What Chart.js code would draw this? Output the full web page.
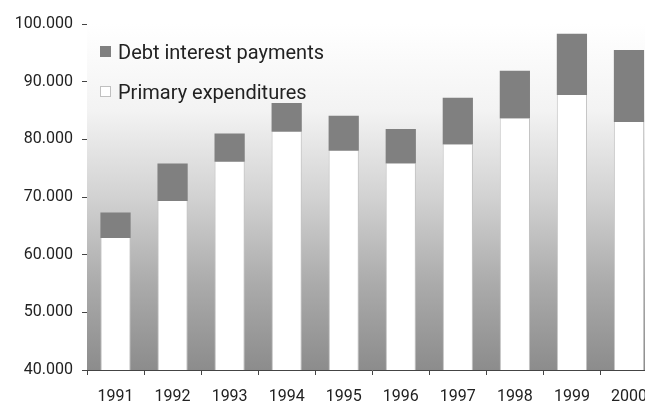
<!DOCTYPE html>
<html>
<head>
<meta charset="utf-8">
<script src="https://cdn.jsdelivr.net/npm/chart.js@4.4.1/dist/chart.umd.min.js"></script>
<style>
  html, body { margin: 0; padding: 0; background: #fff; overflow: hidden; }
  #wrap { position: relative; width: 659px; height: 404px; }
</style>
</head>
<body>
<div id="wrap"><canvas id="grafico" width="659" height="404"></canvas></div>
<script>
// anos e valores (milhões)
const anos = ['1991', '1992', '1993', '1994', '1995', '1996', '1997', '1998', '1999', '2000'];
const primarias = [62900, 69300, 76100, 81300, 78000, 75800, 79100, 83600, 87700, 83000];
const juros = [4400, 6500, 4900, 5000, 6100, 6000, 8100, 8300, 10600, 12500];
const rotulos = ['Primary expenditures', 'Debt interest payments'];
const eixoY = { min: 40000, max: 100000, passo: 10000 };

const fonte = 'Roboto, "Noto Sans", sans-serif';

// 100000 -> "100.000"
function formata(v) {
  return String(v).replace(/\B(?=(\d{3})+(?!\d))/g, '.');
}

// fundo degradê na área do gráfico
const fundoDegrade = {
  id: 'fundoDegrade',
  beforeDatasetsDraw(chart) {
    const { ctx, chartArea: a } = chart;
    const g = ctx.createLinearGradient(0, a.top, 0, a.bottom);
    g.addColorStop(0, '#ffffff');
    g.addColorStop(0.25, '#f3f3f3');
    g.addColorStop(0.5, '#d2d2d2');
    g.addColorStop(0.75, '#ababab');
    g.addColorStop(1, '#8c8c8c');
    ctx.save();
    ctx.fillStyle = g;
    ctx.fillRect(a.left, a.top, a.right - a.left, a.bottom - a.top);
    ctx.restore();
  }
};

// legenda desenhada dentro da área, no canto superior esquerdo
const legendaInterna = {
  id: 'legendaInterna',
  afterDatasetsDraw(chart) {
    const { ctx, chartArea: a } = chart;
    const itens = chart.data.datasets.slice().reverse();
    ctx.save();
    ctx.font = '20px ' + fonte;
    ctx.textBaseline = 'alphabetic';
    itens.forEach((ds, i) => {
      const y = a.top + 22 + i * 40;
      ctx.fillStyle = ds.backgroundColor;
      ctx.fillRect(a.left + 13, y, 11, 11);
      if (ds.backgroundColor === '#ffffff') {
        ctx.strokeStyle = '#c0c0c0';
        ctx.lineWidth = 1;
        ctx.strokeRect(a.left + 13.5, y + 0.5, 10, 10);
      }
      ctx.fillStyle = '#222';
      ctx.fillText(ds.label, a.left + 31, y + 13);
    });
    ctx.restore();
  }
};

const grafico = new Chart(document.getElementById('grafico'), {
  type: 'bar',
  data: {
    labels: anos,
    datasets: [
      {
        label: rotulos[0],
        data: primarias,
        backgroundColor: '#ffffff',
        borderColor: '#c4c4c4',
        borderWidth: { left: 1, right: 1, top: 0, bottom: 0 },
        borderSkipped: false
      },
      {
        label: rotulos[1],
        data: juros,
        backgroundColor: '#808080',
        borderWidth: 0
      }
    ]
  },
  options: {
    responsive: false,
    animation: false,
    devicePixelRatio: 1,
    layout: { padding: { top: 24, right: 1, left: 0, bottom: 0 } },
    datasets: {
      bar: { categoryPercentage: 1, barPercentage: 0.53 }
    },
    plugins: {
      legend: { display: false },
      tooltip: { enabled: false }
    },
    scales: {
      x: {
        stacked: true,
        border: { color: '#444', width: 1 },
        grid: { drawOnChartArea: false, tickLength: 5, color: '#444', offset: true },
        ticks: { color: '#222', font: { family: fonte, size: 16 }, padding: 12, maxRotation: 0 },
        afterFit(s) { s.height = 34; }
      },
      y: {
        stacked: true,
        min: eixoY.min,
        max: eixoY.max,
        border: { color: '#444', width: 1 },
        grid: { drawOnChartArea: false, tickLength: 5, color: '#444' },
        ticks: {
          stepSize: eixoY.passo,
          color: '#222',
          font: { family: fonte, size: 16 },
          padding: 9,
          callback: (v) => formata(v)
        },
        afterFit(s) { s.width = 87; }
      }
    }
  },
  plugins: [fundoDegrade, legendaInterna]
});
</script>
</body>
</html>
